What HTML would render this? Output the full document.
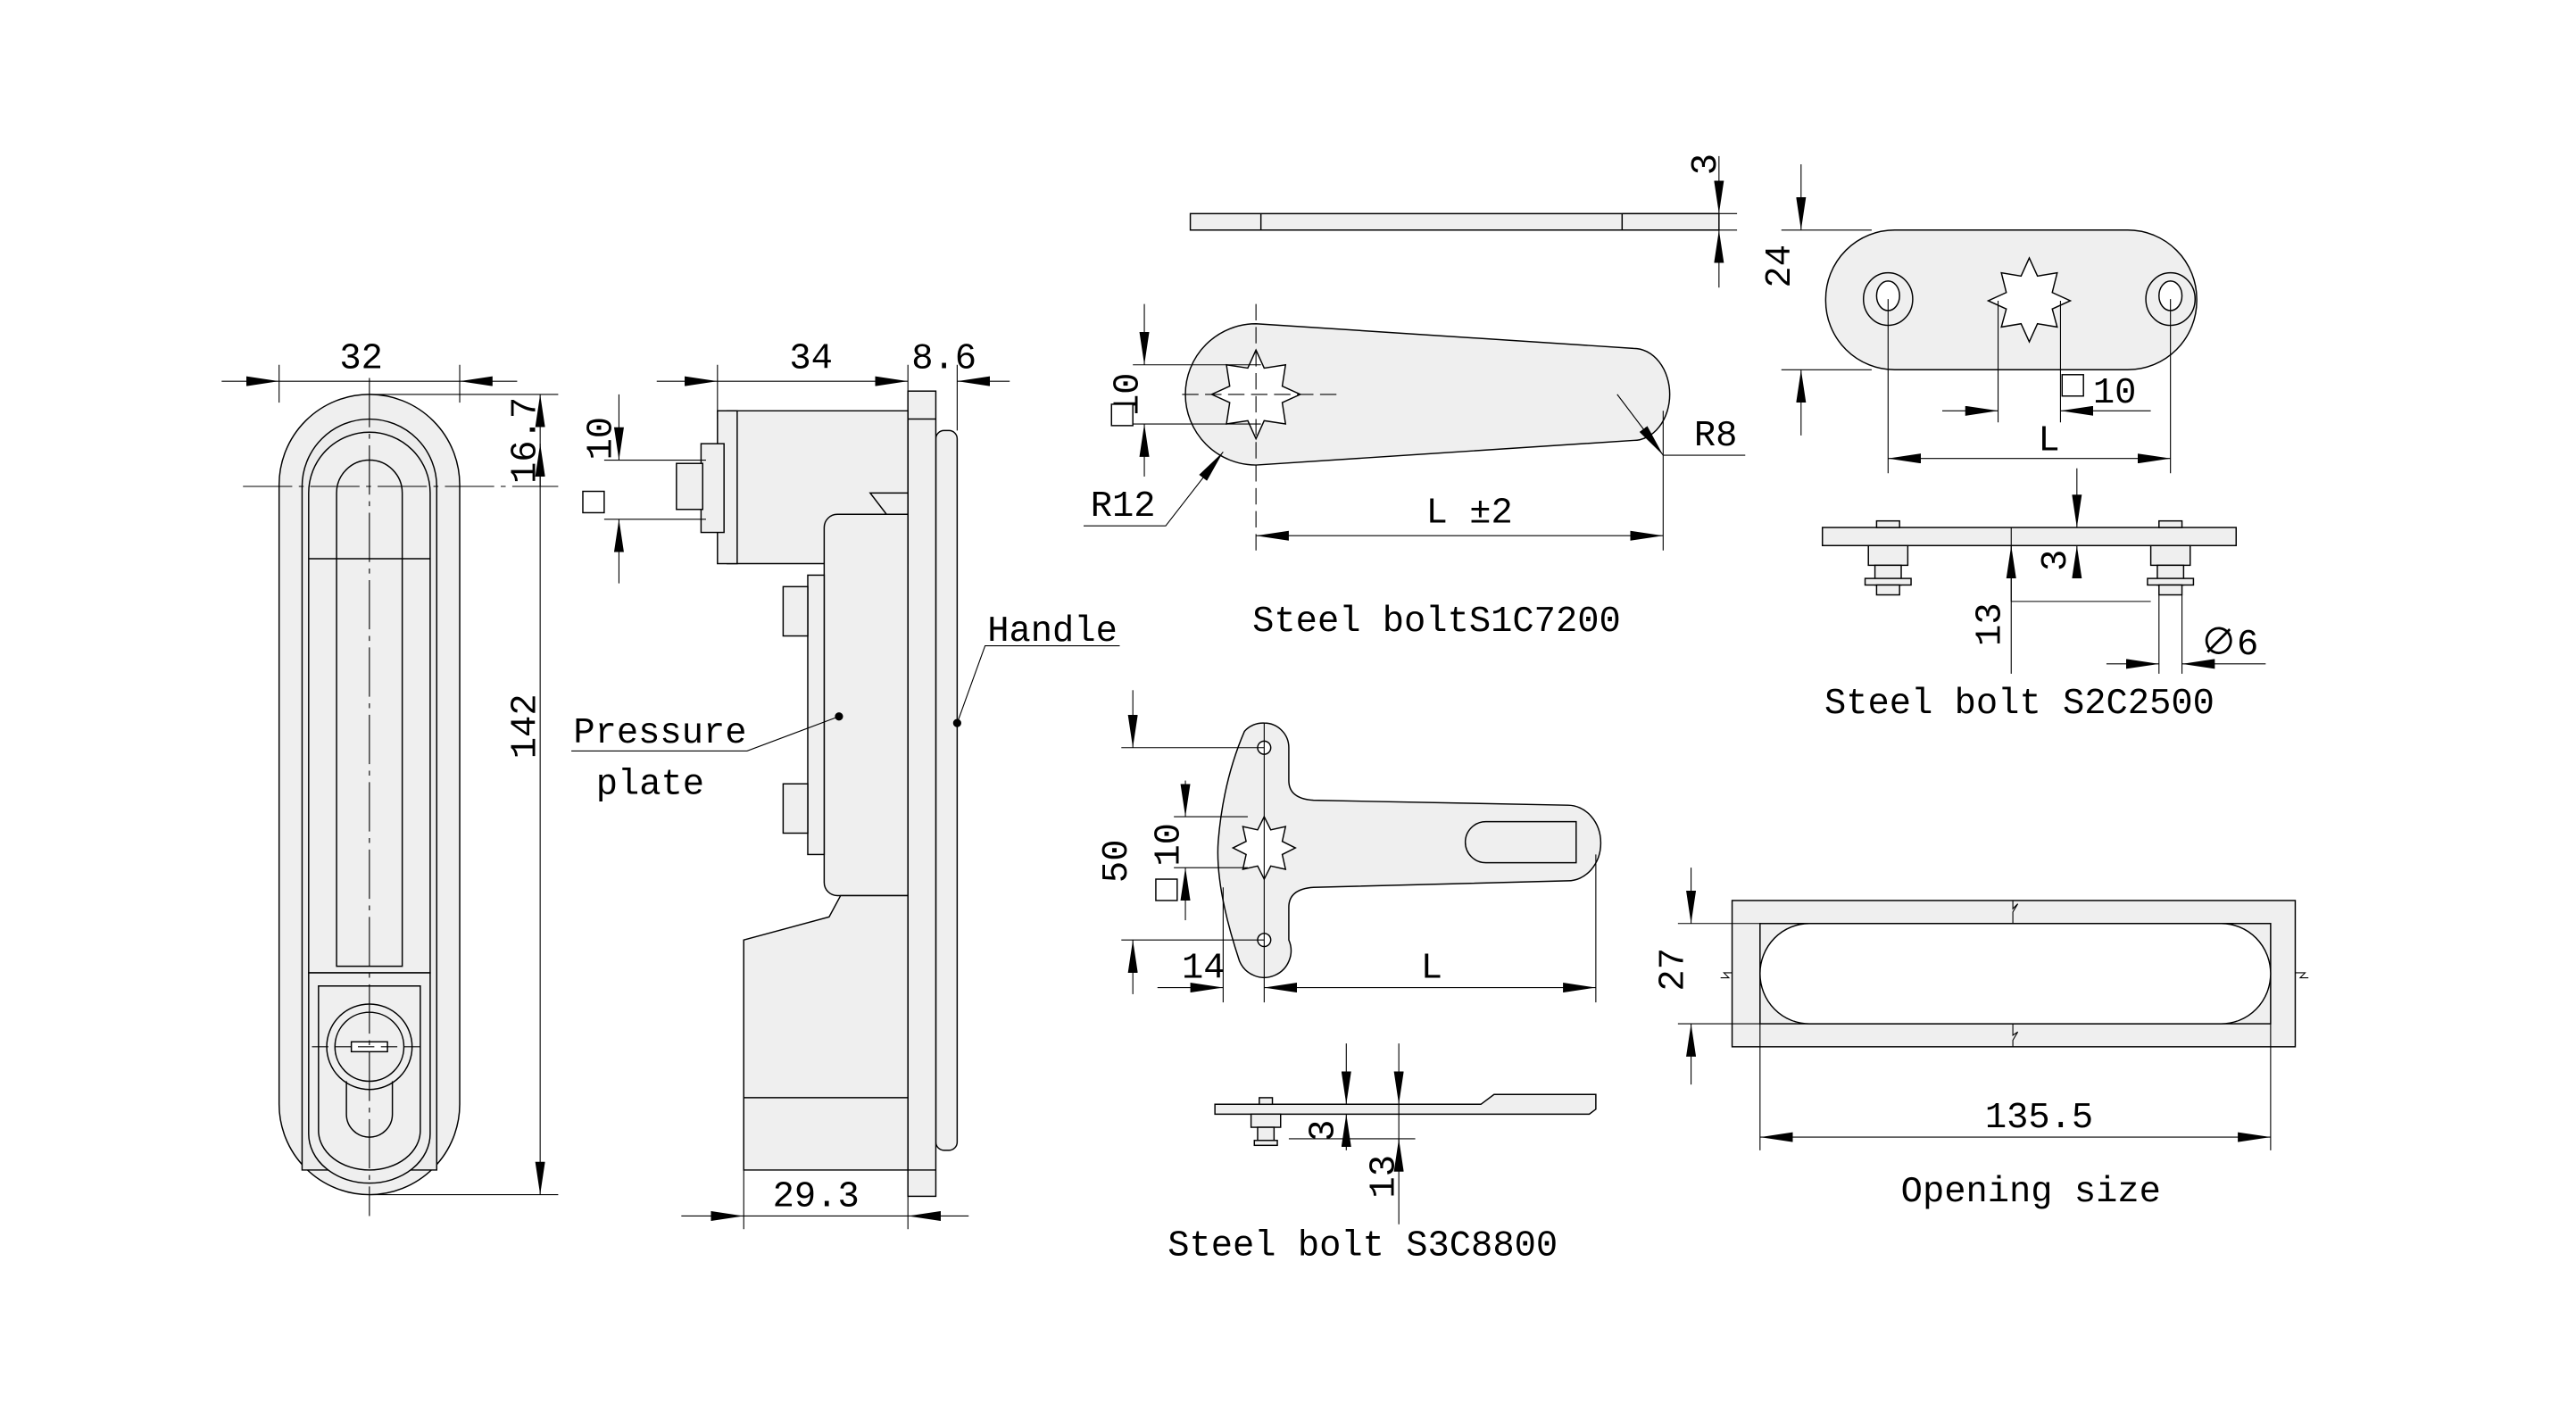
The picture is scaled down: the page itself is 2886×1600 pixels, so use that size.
<!DOCTYPE html>
<html><head><style>
html,body{margin:0;padding:0;background:#fff;}
svg{display:block;}
text{font-family:"Liberation Mono","Noto Sans CJK SC",monospace;fill:#000;}
</style></head><body>
<svg width="2886" height="1600" viewBox="0 0 1569 869" preserveAspectRatio="none" xmlns="http://www.w3.org/2000/svg">
<defs>
<marker id="a" viewBox="0 0 20 6" refX="20" refY="3" markerWidth="20" markerHeight="6" markerUnits="userSpaceOnUse" orient="auto-start-reverse"><path d="M0,0 L20,3 L0,6 Z" fill="#000"/></marker>
</defs>
<g fill="#efefef" stroke="#000" stroke-width="0.8">
<rect x="170" y="240" width="110" height="487" rx="55"/>
<path d="M184,296 A41,41 0 0 1 266,296 L266,712 L184,712 Z" fill="#ececec"/>
<path d="M188,300 A37,37 0 0 1 262,300 L262,592 L188,592 Z"/>
<path d="M205,300 A20,20 0 0 1 245,300 L245,588 L205,588 Z" fill="none"/>
<line x1="188" y1="340" x2="262" y2="340"/>
<path d="M188,592 L262,592 L262,690 A37,30 0 0 1 188,690 Z"/>
<path d="M194,600 L256,600 L256,688 A31,24 0 0 1 194,688 Z" fill="none"/>
<circle cx="225" cy="637" r="26"/>
<circle cx="225" cy="637" r="21" fill="none"/>
<path d="M211,658 L211,678 A14,14 0 0 0 239,678 L239,658" fill="none"/>
<rect x="214" y="634" width="22" height="6" fill="#fff"/>
</g>
<g stroke="#000" stroke-width="0.6" fill="none">
<line x1="225" y1="230" x2="225" y2="740" stroke-dasharray="30,4,3,4"/>
<line x1="148" y1="296" x2="340" y2="296" stroke-dasharray="30,4,3,4"/>
<line x1="190" y1="637" x2="260" y2="637" stroke-dasharray="10,4"/>
<line x1="170" y1="222" x2="170" y2="245"/>
<line x1="280" y1="222" x2="280" y2="245"/>
<line x1="135" y1="232" x2="170" y2="232" marker-end="url(#a)"/>
<line x1="170" y1="232" x2="280" y2="232"/>
<line x1="315" y1="232" x2="280" y2="232" marker-end="url(#a)"/>
<line x1="225" y1="240" x2="340" y2="240"/>
<line x1="225" y1="727" x2="340" y2="727"/>
<line x1="329" y1="240" x2="329" y2="727" marker-start="url(#a)" marker-end="url(#a)"/>
<line x1="329" y1="296" x2="329" y2="270" marker-end="url(#a)"/>
</g>
<text x="220" y="224" font-size="22" text-anchor="middle">32</text>
<text transform="translate(326,268) rotate(-90)" font-size="22" text-anchor="middle">16.7</text>
<text transform="translate(326,442) rotate(-90)" font-size="22" text-anchor="middle">142</text>

<g fill="#efefef" stroke="#000" stroke-width="0.8">
<rect x="570" y="262" width="13" height="438" rx="5"/>
<rect x="553" y="238" width="17" height="490"/>
<path d="M443,250 L553,250 L553,343 L443,343 Z"/>
<rect x="437" y="250" width="12" height="93"/>
<rect x="427" y="270" width="14" height="54"/>
<rect x="412" y="282" width="16" height="28"/>
<path d="M530,300 L553,300 L553,330 Z"/>
<path d="M510,313 L553,313 L553,545 L510,545 A8,8 0 0 1 502,537 L502,321 A8,8 0 0 1 510,313 Z"/>
<rect x="492" y="350" width="10" height="170"/>
<rect x="477" y="357" width="15" height="30"/>
<rect x="477" y="477" width="15" height="30"/>
<path d="M453,572 L505,558 L512,545 L553,545 L553,712 L453,712 Z"/>
<line x1="453" y1="668" x2="553" y2="668"/>
<line x1="553" y1="255" x2="570" y2="255"/>
<line x1="553" y1="712" x2="570" y2="712"/>
</g>
<g stroke="#000" stroke-width="0.6" fill="none">
<line x1="437" y1="222" x2="437" y2="255"/>
<line x1="553" y1="222" x2="553" y2="238"/>
<line x1="583" y1="222" x2="583" y2="262"/>
<line x1="400" y1="232" x2="437" y2="232" marker-end="url(#a)"/>
<line x1="437" y1="232" x2="553" y2="232" marker-end="url(#a)"/>
<line x1="615" y1="232" x2="583" y2="232" marker-end="url(#a)"/>
<line x1="368" y1="280" x2="430" y2="280"/>
<line x1="368" y1="316" x2="430" y2="316"/>
<line x1="377" y1="240" x2="377" y2="280" marker-end="url(#a)"/>
<line x1="377" y1="355" x2="377" y2="316" marker-end="url(#a)"/>
<line x1="453" y1="712" x2="453" y2="748"/>
<line x1="553" y1="728" x2="553" y2="748"/>
<line x1="415" y1="740" x2="453" y2="740" marker-end="url(#a)"/>
<line x1="453" y1="740" x2="553" y2="740"/>
<line x1="590" y1="740" x2="553" y2="740" marker-end="url(#a)"/>
<polyline points="682,393 600,393 583,440"/>
<polyline points="348,457 455,457 511,436"/>
</g>
<circle cx="583" cy="440" r="2.5"/>
<circle cx="511" cy="436" r="2.5"/>
<text x="494" y="224" font-size="22" text-anchor="middle">34</text>
<text x="575" y="224" font-size="22" text-anchor="middle">8.6</text>
<text x="497" y="734" font-size="22" text-anchor="middle">29.3</text>
<text transform="translate(372,280) rotate(-90)" font-size="22">10</text>
<rect x="355" y="299" width="13" height="13" fill="#fff" stroke="#000" stroke-width="0.8"/>
<text x="641" y="390" font-size="22" text-anchor="middle">Handle</text>
<text x="402" y="452" font-size="22" text-anchor="middle">Pressure</text>
<text x="396" y="483" font-size="22" text-anchor="middle">plate</text>

<g fill="#efefef" stroke="#000" stroke-width="0.8">
<rect x="725" y="130" width="322" height="10"/>
<line x1="768" y1="130" x2="768" y2="140"/>
<line x1="988" y1="130" x2="988" y2="140"/>
<path d="M765,197 L995,212 A22,28 0 0 1 995,268 L765,283 A43,43 0 0 1 765,197 Z"/>
<path d="M765,213 L770,224 L783,222 L781,235 L792,240 L781,245 L783,258 L770,256 L765,267 L760,256 L747,258 L749,245 L738,240 L749,235 L747,222 L760,224 Z" fill="#fff"/>
</g>
<g stroke="#000" stroke-width="0.6" fill="none">
<line x1="765" y1="185" x2="765" y2="335" stroke-dasharray="10,4"/>
<line x1="720" y1="240" x2="815" y2="240" stroke-dasharray="10,4"/>
<line x1="988" y1="140" x2="1058" y2="140"/>
<line x1="988" y1="130" x2="1058" y2="130"/>
<line x1="1047" y1="95" x2="1047" y2="130" marker-end="url(#a)"/>
<line x1="1047" y1="175" x2="1047" y2="140" marker-end="url(#a)"/>
<line x1="690" y1="222" x2="768" y2="222"/>
<line x1="690" y1="258" x2="768" y2="258"/>
<line x1="697" y1="185" x2="697" y2="222" marker-end="url(#a)"/>
<line x1="697" y1="290" x2="697" y2="258" marker-end="url(#a)"/>
<line x1="1013" y1="250" x2="1013" y2="335"/>
<line x1="765" y1="326" x2="1013" y2="326" marker-start="url(#a)" marker-end="url(#a)"/>
<polyline points="660,320 710,320 745,275" marker-end="url(#a)"/>
<line x1="985" y1="240" x2="1013" y2="277" marker-end="url(#a)"/>
<line x1="1013" y1="277" x2="1063" y2="277"/>
</g>
<text x="895" y="318" font-size="22" text-anchor="middle">L ±2</text>
<text x="684" y="314" font-size="22" text-anchor="middle">R12</text>
<text x="1045" y="271" font-size="22" text-anchor="middle">R8</text>
<text transform="translate(1045,100) rotate(-90)" font-size="22" text-anchor="middle">3</text>
<text transform="translate(693,240) rotate(-90)" font-size="22" text-anchor="middle">10</text>
<rect x="677" y="246" width="13" height="13" fill="#fff" stroke="#000" stroke-width="0.8"/>
<text x="875" y="384" font-size="22" text-anchor="middle">Steel boltS1C7200</text>

<g fill="#efefef" stroke="#000" stroke-width="0.8">
<rect x="1112" y="140" width="226" height="85" rx="42"/>
<ellipse cx="1150" cy="182" rx="15" ry="16"/>
<ellipse cx="1150" cy="180" rx="7" ry="9" fill="#fff"/>
<ellipse cx="1322" cy="182" rx="15" ry="16"/>
<ellipse cx="1322" cy="180" rx="7" ry="9" fill="#fff"/>
<path d="M1236,157 L1241,168 L1253,166 L1250,178 L1261,183 L1250,188 L1253,199 L1241,197 L1236,208 L1231,197 L1219,199 L1222,188 L1211,183 L1222,178 L1219,166 L1231,168 Z" fill="#fff"/>
<rect x="1110" y="321" width="252" height="11"/>
<rect x="1143" y="317" width="14" height="4"/><rect x="1315" y="317" width="14" height="4"/>
<rect x="1138" y="332" width="24" height="12"/><rect x="1310" y="332" width="24" height="12"/>
<rect x="1142" y="344" width="16" height="12"/><rect x="1314" y="344" width="16" height="12"/>
<rect x="1136" y="352" width="28" height="4"/><rect x="1308" y="352" width="28" height="4"/>
<rect x="1143" y="356" width="14" height="6"/><rect x="1315" y="356" width="14" height="6"/>
</g>
<g stroke="#000" stroke-width="0.6" fill="none">
<line x1="1085" y1="140" x2="1140" y2="140"/>
<line x1="1085" y1="225" x2="1140" y2="225"/>
<line x1="1097" y1="100" x2="1097" y2="140" marker-end="url(#a)"/>
<line x1="1097" y1="265" x2="1097" y2="225" marker-end="url(#a)"/>
<line x1="1150" y1="182" x2="1150" y2="288"/>
<line x1="1322" y1="182" x2="1322" y2="288"/>
<line x1="1217" y1="183" x2="1217" y2="257"/>
<line x1="1255" y1="183" x2="1255" y2="257"/>
<line x1="1183" y1="250" x2="1217" y2="250" marker-end="url(#a)"/>
<line x1="1310" y1="250" x2="1255" y2="250" marker-end="url(#a)"/>
<line x1="1150" y1="279" x2="1322" y2="279" marker-start="url(#a)" marker-end="url(#a)"/>
<line x1="1265" y1="285" x2="1265" y2="321" marker-end="url(#a)"/>
<line x1="1265" y1="350" x2="1265" y2="332" marker-end="url(#a)"/>
<line x1="1225" y1="321" x2="1225" y2="410"/>
<line x1="1225" y1="366" x2="1310" y2="366"/>
<line x1="1225" y1="366" x2="1225" y2="332" marker-end="url(#a)"/>
<line x1="1315" y1="362" x2="1315" y2="410"/>
<line x1="1329" y1="362" x2="1329" y2="410"/>
<line x1="1283" y1="404" x2="1315" y2="404" marker-end="url(#a)"/>
<line x1="1380" y1="404" x2="1329" y2="404" marker-end="url(#a)"/>
</g>
<text transform="translate(1090,162) rotate(-90)" font-size="22" text-anchor="middle">24</text>
<rect x="1256" y="228" width="13" height="13" fill="#fff" stroke="#000" stroke-width="0.8"/>
<text x="1288" y="245" font-size="22" text-anchor="middle">10</text>
<text x="1248" y="274" font-size="22" text-anchor="middle">L</text>
<text transform="translate(1258,341) rotate(-90)" font-size="22" text-anchor="middle">3</text>
<text transform="translate(1218,380) rotate(-90)" font-size="22" text-anchor="middle">13</text>
<text x="1358" y="398" font-size="22" text-anchor="middle">∅6</text>
<text x="1230" y="434" font-size="22" text-anchor="middle">Steel bolt S2C2500</text>

<g fill="#efefef" stroke="#000" stroke-width="0.8">
<path d="M770,440 A15,15 0 0 1 785,455 L785,475 Q785,486 800,487 L955,490 A20,23 0 0 1 955,536 L800,540 Q785,541 785,552 L785,572 A15,15 0 0 1 755,585 Q740,540 742,512 Q745,475 758,445 A15,15 0 0 1 770,440 Z"/>
<path d="M905,500 L960,500 L960,525 L905,525 A12,12 0 0 1 905,500 Z"/>
<circle cx="770" cy="455" r="4" fill="#fff"/>
<circle cx="770" cy="572" r="4" fill="#fff"/>
<path d="M770,497 L774,505 L783,503 L781,512 L789,516 L781,520 L783,529 L774,527 L770,535 L766,527 L757,529 L759,520 L751,516 L759,512 L757,503 L766,505 Z" fill="#fff"/>
<path d="M740,672 L902,672 L910,666 L972,666 L972,675 L968,678 L740,678 Z"/>
<rect x="767" y="668" width="8" height="4"/>
<rect x="762" y="678" width="18" height="8"/>
<rect x="766" y="686" width="10" height="10"/>
<rect x="764" y="694" width="14" height="3"/>
</g>
<g stroke="#000" stroke-width="0.6" fill="none">
<line x1="770" y1="440" x2="770" y2="610"/>
<line x1="683" y1="455" x2="770" y2="455"/>
<line x1="683" y1="572" x2="770" y2="572"/>
<line x1="690" y1="420" x2="690" y2="455" marker-end="url(#a)"/>
<line x1="690" y1="605" x2="690" y2="572" marker-end="url(#a)"/>
<line x1="715" y1="497" x2="760" y2="497"/>
<line x1="715" y1="528" x2="760" y2="528"/>
<line x1="722" y1="475" x2="722" y2="497" marker-end="url(#a)"/>
<line x1="722" y1="560" x2="722" y2="528" marker-end="url(#a)"/>
<line x1="745" y1="540" x2="745" y2="610"/>
<line x1="972" y1="520" x2="972" y2="610"/>
<line x1="705" y1="601" x2="745" y2="601" marker-end="url(#a)"/>
<line x1="770" y1="601" x2="972" y2="601" marker-start="url(#a)" marker-end="url(#a)"/>
<line x1="820" y1="635" x2="820" y2="672" marker-end="url(#a)"/>
<line x1="820" y1="700" x2="820" y2="678" marker-end="url(#a)"/>
<line x1="852" y1="635" x2="852" y2="672" marker-end="url(#a)"/>
<line x1="852" y1="672" x2="852" y2="745"/>
<line x1="852" y1="710" x2="852" y2="693" marker-end="url(#a)"/>
<line x1="785" y1="693" x2="862" y2="693"/>
</g>
<text transform="translate(686,524) rotate(-90)" font-size="22" text-anchor="middle">50</text>
<text transform="translate(718,514) rotate(-90)" font-size="22" text-anchor="middle">10</text>
<rect x="704" y="535" width="13" height="13" fill="#fff" stroke="#000" stroke-width="0.8"/>
<text x="733" y="595" font-size="22" text-anchor="middle">14</text>
<text x="872" y="595" font-size="22" text-anchor="middle">L</text>
<text transform="translate(812,688) rotate(-90)" font-size="22" text-anchor="middle">3</text>
<text transform="translate(849,716) rotate(-90)" font-size="22" text-anchor="middle">13</text>
<text x="830" y="764" font-size="22" text-anchor="middle">Steel bolt S3C8800</text>

<g fill="#efefef" stroke="#000" stroke-width="0.8">
<rect x="1055" y="548" width="343" height="89"/>
<rect x="1072" y="562" width="311" height="61"/>
<path d="M1102,562 L1353,562 A30,30.5 0 0 1 1353,623 L1102,623 A30,30.5 0 0 1 1102,562 Z" fill="#fff"/>
</g>
<g stroke="#000" stroke-width="0.6" fill="none">
<polyline points="1226,548 1226,553 1229,550 1226,555 1226,562"/>
<polyline points="1226,623 1226,630 1229,628 1226,633 1226,637"/>
<polyline points="1055,592 1050,592 1053,595 1048,595"/>
<polyline points="1398,592 1404,592 1401,595 1406,595"/>
<line x1="1022" y1="562" x2="1072" y2="562"/>
<line x1="1022" y1="623" x2="1072" y2="623"/>
<line x1="1030" y1="528" x2="1030" y2="562" marker-end="url(#a)"/>
<line x1="1030" y1="660" x2="1030" y2="623" marker-end="url(#a)"/>
<line x1="1072" y1="623" x2="1072" y2="700"/>
<line x1="1383" y1="623" x2="1383" y2="700"/>
<line x1="1072" y1="692" x2="1383" y2="692" marker-start="url(#a)" marker-end="url(#a)"/>
</g>
<text transform="translate(1025,590) rotate(-90)" font-size="22" text-anchor="middle">27</text>
<text x="1242" y="686" font-size="22" text-anchor="middle">135.5</text>
<text x="1237" y="731" font-size="22" text-anchor="middle">Opening size</text>
</svg>
</body></html>
